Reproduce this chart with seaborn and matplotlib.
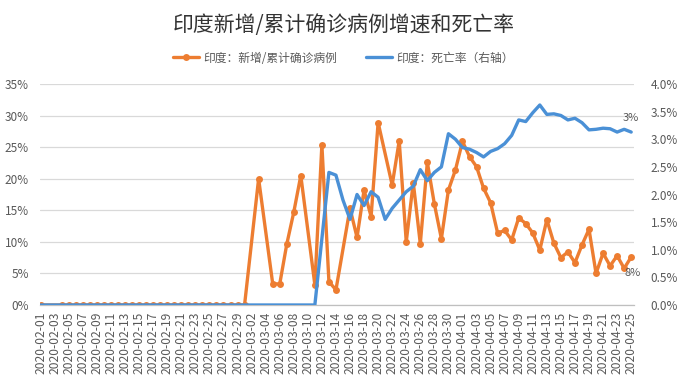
import numpy as np
import pandas as pd
import matplotlib
matplotlib.use("Agg")
import matplotlib.pyplot as plt
import seaborn as sns
from matplotlib.ticker import FuncFormatter, MultipleLocator
from matplotlib.lines import Line2D

# ------------------------------------------------------------
# данные
# ------------------------------------------------------------
dates = pd.date_range("2020-02-01", "2020-04-25").strftime("%Y-%m-%d").tolist()

nan = np.nan
# 印度：新增/累计确诊病例, %
growth = [0, nan, nan] + [0] * 27 + [
    nan, 20.0, nan, 3.4, 3.3, 9.6, 14.7, 20.5, nan, 3.2,
    25.4, 3.7, 2.4, nan, 15.3, 10.7, 18.2, 14.0, 28.9, nan,
    19.0, 26.0, 10.0, 19.4, 9.7, 22.6, 16.0, 10.5, 18.2, 21.4,
    25.9, 23.5, 21.9, 18.5, 16.2, 11.4, 11.8, 10.3, 13.8, 12.9,
    11.4, 8.7, 13.5, 9.8, 7.5, 8.4, 6.7, 9.5, 12.0, 5.0,
    8.2, 6.2, 7.8, 5.8, 7.6,
]
# 印度：死亡率（右轴）, %
death = [0] * 40 + [
    1.2, 2.4, 2.35, 1.9, 1.55, 2.0, 1.8, 2.05, 1.95, 1.55,
    1.75, 1.9, 2.05, 2.15, 2.45, 2.25, 2.4, 2.5, 3.1, 3.0,
    2.85, 2.82, 2.76, 2.68, 2.78, 2.83, 2.92, 3.07, 3.35, 3.32,
    3.48, 3.62, 3.45, 3.46, 3.43, 3.35, 3.38, 3.3, 3.17, 3.18,
    3.2, 3.19, 3.13, 3.18, 3.13,
]

title = "印度新增/累计确诊病例增速和死亡率"
label_growth = "印度：新增/累计确诊病例"
label_death = "印度：死亡率（右轴）"

ORANGE = "#ED7D31"
BLUE = "#4A90D6"
TXT = "#595959"

df = pd.DataFrame({"pos": np.arange(len(dates)), "growth": growth, "death": death})

sns.set_theme(style="white")
plt.rcParams["font.family"] = ["Noto Sans CJK SC", "DejaVu Sans"]
plt.rcParams["axes.unicode_minus"] = False

fig = plt.figure(figsize=(6.8, 3.78), dpi=100)
ax = fig.add_axes([40 / 680, 1 - 305 / 378, 594 / 680, 221 / 378])
ax2 = ax.twinx()

# оранжевая линия: пропуски соединяем, как в Excel
g = df.dropna(subset=["growth"])
sns.lineplot(data=g, x="pos", y="growth", ax=ax, color=ORANGE, linewidth=2.4,
             marker="o", markersize=5, markeredgewidth=0, legend=False)
sns.lineplot(data=df, x="pos", y="death", ax=ax2, color=BLUE, linewidth=2.4,
             legend=False)

ax.set_xlim(-0.1, 84.4)
ax.set_ylim(0, 35)
ax2.set_ylim(0, 4.0)
ax.yaxis.set_major_locator(MultipleLocator(5))
ax2.yaxis.set_major_locator(MultipleLocator(0.5))
ax.yaxis.set_major_formatter(FuncFormatter(lambda v, p: f"{v:.0f}%"))
ax2.yaxis.set_major_formatter(FuncFormatter(lambda v, p: f"{v:.1f}%"))

ax.set_xticks(df["pos"][::2])
ax.set_xticklabels(dates[::2], rotation=90, fontsize=8.7, color=TXT)
ax.tick_params(axis="x", length=3, width=0.8, color="#BFBFBF", pad=2, direction="out")
ax.tick_params(axis="y", labelsize=8.5, labelcolor=TXT, length=0, pad=8)
ax2.tick_params(axis="y", labelsize=8.5, labelcolor=TXT, length=0, pad=12)

ax.grid(axis="y", color="#D9D9D9", linewidth=0.9)
ax.set_axisbelow(True)
for a in (ax, ax2):
    a.set_xlabel("")
    a.set_ylabel("")
    for s in a.spines.values():
        s.set_visible(False)
ax.spines["bottom"].set_visible(True)
ax.spines["bottom"].set_color("#BFBFBF")
ax.spines["bottom"].set_linewidth(0.9)

# подписи последних точек
last = len(dates) - 1
ax2.annotate(f"{death[-1]:.0f}%", (last, death[-1]), xytext=(0, 8),
             textcoords="offset points", ha="center", fontsize=8, color=TXT)
ax.annotate(f"{growth[-1]:.0f}%", (last, growth[-1]), xytext=(1, -14),
            textcoords="offset points", ha="center", fontsize=8, color=TXT)

fig.text(0.505, 1 - 25 / 378, title, ha="center", va="center", fontsize=15, color="#333333")

handles = [
    Line2D([], [], color=ORANGE, linewidth=2.4, marker="o", markersize=5, markeredgewidth=0),
    Line2D([], [], color=BLUE, linewidth=2.4),
]
fig.legend(handles, [label_growth, label_death], loc="center", ncol=2,
           bbox_to_anchor=(0.505, 1 - 58 / 378), frameon=False, fontsize=8.5,
           handlelength=2.2, handletextpad=0.3, columnspacing=2.5,
           labelcolor=TXT)

fig.savefig("out.png", dpi=100)
